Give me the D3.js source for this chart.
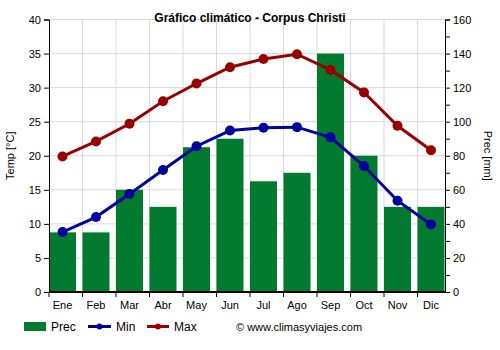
<!DOCTYPE html>
<html><head><meta charset="utf-8">
<script src="https://cdn.jsdelivr.net/npm/d3@7"></script>
<style>body{margin:0;background:#fff;}svg{display:block;font-family:"Liberation Sans",Arial,sans-serif;}</style>
</head><body><svg id="c" width="500" height="350"></svg>
<script>
const months = ["Ene","Feb","Mar","Abr","May","Jun","Jul","Ago","Sep","Oct","Nov","Dic"];
const prec = [35,35,60,50,85,90,65,70,140,80,50,50];
const tmin = [8.8,11.0,14.4,17.9,21.4,23.7,24.1,24.2,22.7,18.5,13.4,9.9];
const tmax = [19.9,22.1,24.7,28.0,30.6,33.0,34.2,34.9,32.6,29.3,24.4,20.8];
const tempTicks = [0,5,10,15,20,25,30,35,40];
const precTicks = [0,20,40,60,80,100,120,140,160];

const svg = d3.select("#c");
const L = 49, R = 445, T = 19.5, B = 292;
const x = d3.scaleBand().domain(months).range([L, L + 12*33.5]).padding(0);
const bw = 27;
const yT = d3.scaleLinear().domain([0,40]).range([B, T]);
const yP = d3.scaleLinear().domain([0,160]).range([B, T]);
const grid = "#d9d9d9";

// grid
svg.append("g").selectAll("line").data(tempTicks.slice(1)).join("line")
  .attr("x1", L).attr("x2", R).attr("y1", d=>yT(d)).attr("y2", d=>yT(d))
  .attr("stroke", grid).attr("stroke-width", 1);
svg.append("g").selectAll("line").data(months.slice(1)).join("line")
  .attr("x1", d=>x(d)).attr("x2", d=>x(d)).attr("y1", T).attr("y2", B)
  .attr("stroke", grid).attr("stroke-width", 1);

// bars
svg.append("g").selectAll("rect").data(prec).join("rect")
  .attr("x", (d,i)=>x(months[i])).attr("width", bw)
  .attr("y", d=>yP(d)).attr("height", d=>B - yP(d))
  .attr("fill", "#027a30");

// lines
const cx = i => x(months[i]) + bw/2;
function series(data, color){
  const line = d3.line().x((d,i)=>cx(i)).y(d=>yT(d));
  svg.append("path").datum(data).attr("d", line).attr("fill","none")
    .attr("stroke", color).attr("stroke-width", 3);
  svg.append("g").selectAll("circle").data(data).join("circle")
    .attr("cx",(d,i)=>cx(i)).attr("cy", d=>yT(d)).attr("r", 5).attr("fill", color);
}
series(tmin, "#00009c");
series(tmax, "#990000");

// axes
const fs = "11px";
const ax = svg.append("g").attr("transform",`translate(${L},0)`)
  .call(d3.axisLeft(yT).tickValues(tempTicks).tickSize(5).tickPadding(3));
ax.select(".domain").attr("stroke","#000");
ax.selectAll("text").style("font-size", fs).attr("fill","#000");

const ar = svg.append("g").attr("transform",`translate(${R},0)`)
  .call(d3.axisRight(yP).tickValues(d3.range(0,161,10)).tickSize(5).tickPadding(3)
    .tickFormat(d => d % 20 === 0 ? d : ""));
ar.select(".domain").attr("stroke","#000");
ar.selectAll("text").style("font-size", fs).attr("fill","#000");

const ab = svg.append("g").attr("transform",`translate(0,${B})`)
  .call(d3.axisBottom(x).tickSize(0).tickPadding(9).tickFormat(d=>d));
ab.select(".domain").remove();
ab.selectAll("text").attr("x", -(x.bandwidth()-bw)/2).style("font-size", fs).attr("fill","#000");
svg.append("line").attr("x1",L).attr("x2",R).attr("y1",B).attr("y2",B).attr("stroke","#000").attr("stroke-width",2);
svg.append("g").selectAll("line").data(months).join("line")
  .attr("x1",d=>x(d)).attr("x2",d=>x(d)).attr("y1",B).attr("y2",B+5).attr("stroke","#000");

// titles
svg.append("text").attr("x", 250).attr("y", 22).attr("text-anchor","middle")
  .style("font-size","12px").style("font-weight","bold").text("Gráfico climático - Corpus Christi");
svg.append("text").attr("transform",`translate(14,${(T+B)/2}) rotate(-90)`).attr("text-anchor","middle")
  .style("font-size","11px").text("Temp [°C]");
svg.append("text").attr("transform",`translate(484,${(T+B)/2}) rotate(90)`).attr("text-anchor","middle")
  .style("font-size","11px").text("Prec [mm]");

// legend
const ly = 326.5;
const lg = svg.append("g").style("font-size","12px");
lg.append("rect").attr("x",24).attr("y",ly-4.5).attr("width",22).attr("height",9).attr("fill","#027a30");
lg.append("text").attr("x",51).attr("y",ly+4.5).text("Prec");
lg.append("line").attr("x1",88).attr("x2",111).attr("y1",ly).attr("y2",ly).attr("stroke","#00009c").attr("stroke-width",3);
lg.append("circle").attr("cx",99.5).attr("cy",ly).attr("r",3).attr("fill","#00009c");
lg.append("text").attr("x",116).attr("y",ly+4.5).text("Min");
lg.append("line").attr("x1",147).attr("x2",169).attr("y1",ly).attr("y2",ly).attr("stroke","#990000").attr("stroke-width",3);
lg.append("circle").attr("cx",158).attr("cy",ly).attr("r",3).attr("fill","#990000");
lg.append("text").attr("x",174).attr("y",ly+4.5).text("Max");
lg.append("text").attr("x",236).attr("y",ly+4.5).style("font-size","11px").text("© www.climasyviajes.com");
</script></body></html>
